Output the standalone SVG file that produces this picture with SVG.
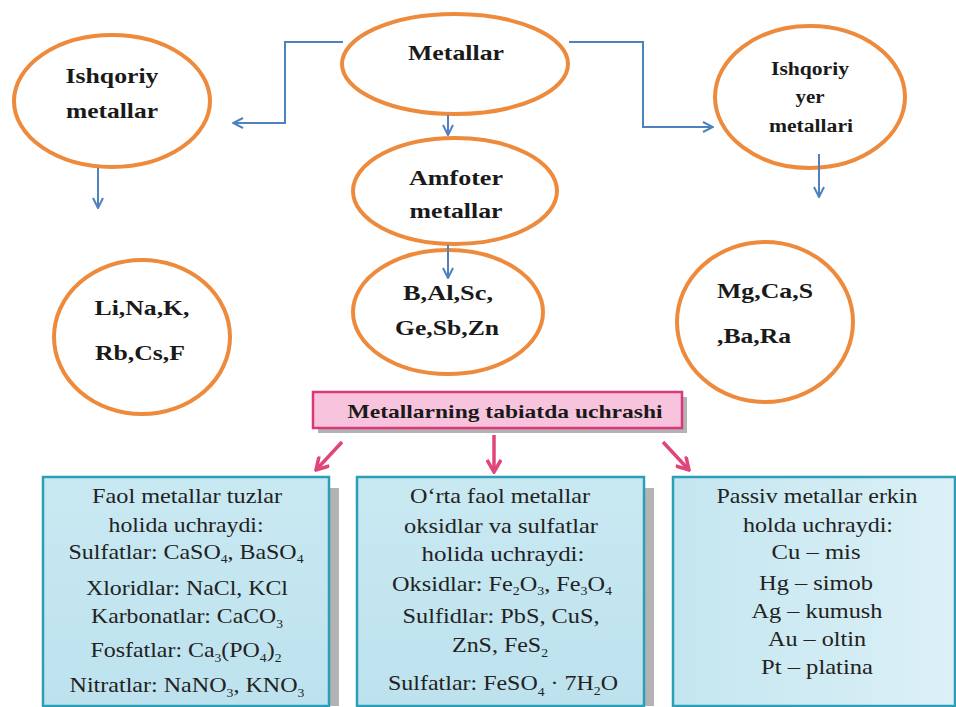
<svg xmlns="http://www.w3.org/2000/svg" width="956" height="707" viewBox="0 0 956 707" font-family="Liberation Serif">
<defs>
<style>
.ell{fill:#fff;stroke:#ee8a3c;stroke-width:4}
.bt{font-family:'Liberation Serif','DejaVu Serif',serif;font-weight:bold;fill:#1a1a1a;text-anchor:middle}
.con{fill:none;stroke:#4f81bd;stroke-width:2}
.pk{fill:none;stroke:#e0457b;stroke-width:3.5}
.box{stroke:#2c9fb6;stroke-width:2.5}
.sh{fill:#b3b3b3}
.tx{font-family:'Liberation Serif','DejaVu Serif',serif;font-size:21px;fill:#222;text-anchor:middle}
</style>
<marker id="ab" viewBox="0 0 12 12" refX="11" refY="6" markerWidth="12" markerHeight="12" markerUnits="userSpaceOnUse" orient="auto">
<path d="M1,1 L11,6 L1,11" fill="none" stroke="#4f81bd" stroke-width="2"/>
</marker>
<marker id="ap" viewBox="0 0 16 16" refX="14" refY="8" markerWidth="16" markerHeight="16" markerUnits="userSpaceOnUse" orient="auto">
<path d="M2,1 L14,8 L2,15" fill="none" stroke="#e0457b" stroke-width="3.5"/>
</marker>
<linearGradient id="gb" x1="0" y1="0" x2="0" y2="1">
<stop offset="0" stop-color="#c9e9f2"/>
<stop offset="1" stop-color="#bde2ee"/>
</linearGradient>
<linearGradient id="gr" x1="0" y1="0" x2="1" y2="0">
<stop offset="0" stop-color="#c4e6f0"/>
<stop offset="1" stop-color="#dcf0f6"/>
</linearGradient>
</defs>
<rect width="956" height="707" fill="#fff"/>

<g id="metallar">
<ellipse class="ell" cx="455" cy="64" rx="113" ry="50"/>
<text class="bt" x="456" y="60" font-size="22" textLength="96" lengthAdjust="spacingAndGlyphs">Metallar</text>
</g>

<g id="ishqoriy">
<ellipse class="ell" cx="112" cy="101" rx="98" ry="66"/>
<text class="bt" x="112" y="83" font-size="22" textLength="93" lengthAdjust="spacingAndGlyphs">Ishqoriy</text>
<text class="bt" x="112" y="118" font-size="22" textLength="92" lengthAdjust="spacingAndGlyphs">metallar</text>
</g>

<g id="amfoter">
<ellipse class="ell" cx="455" cy="191" rx="102" ry="53"/>
<text class="bt" x="456" y="185" font-size="22" textLength="94" lengthAdjust="spacingAndGlyphs">Amfoter</text>
<text class="bt" x="456" y="218" font-size="22" textLength="93" lengthAdjust="spacingAndGlyphs">metallar</text>
</g>

<g id="ishqoriy-yer">
<ellipse class="ell" cx="810" cy="97" rx="95" ry="71"/>
<text class="bt" x="810" y="75" font-size="18" textLength="78" lengthAdjust="spacingAndGlyphs">Ishqoriy</text>
<text class="bt" x="810" y="103" font-size="18" textLength="29" lengthAdjust="spacingAndGlyphs">yer</text>
<text class="bt" x="811" y="132" font-size="18" textLength="84" lengthAdjust="spacingAndGlyphs">metallari</text>
</g>

<g id="li-na">
<ellipse class="ell" cx="142" cy="337" rx="88" ry="77"/>
<text class="bt" x="142" y="315" font-size="22" textLength="95" lengthAdjust="spacingAndGlyphs">Li,Na,K,</text>
<text class="bt" x="140" y="360" font-size="22" textLength="90" lengthAdjust="spacingAndGlyphs">Rb,Cs,F</text>
</g>

<g id="b-al">
<ellipse class="ell" cx="448" cy="312" rx="95" ry="62"/>
<text class="bt" x="448" y="300" font-size="22" textLength="90" lengthAdjust="spacingAndGlyphs">B,Al,Sc,</text>
<text class="bt" x="447" y="335" font-size="22" textLength="104" lengthAdjust="spacingAndGlyphs">Ge,Sb,Zn</text>
</g>

<g id="mg-ca">
<ellipse class="ell" cx="765" cy="322" rx="88" ry="80"/>
<text class="bt" x="717" y="298" font-size="22" style="text-anchor:start" textLength="96" lengthAdjust="spacingAndGlyphs">Mg,Ca,S</text>
<text class="bt" x="717" y="343" font-size="22" style="text-anchor:start" textLength="74" lengthAdjust="spacingAndGlyphs">,Ba,Ra</text>
</g>

<g id="tabiatda">
<rect x="318" y="397" width="369" height="36" class="sh"/>
<rect x="313" y="392" width="369" height="36" fill="#f8c4dd" stroke="#d9387a" stroke-width="2.5"/>
<text class="bt" x="505" y="418" font-size="19" textLength="315" lengthAdjust="spacingAndGlyphs">Metallarning tabiatda uchrashi</text>
</g>

<g id="faol">
<rect x="330" y="488" width="9" height="218" class="sh"/>
<rect x="43" y="477" width="286" height="229" fill="url(#gb)" class="box"/>
<text class="tx" x="187" y="503" textLength="190" lengthAdjust="spacingAndGlyphs">Faol metallar tuzlar</text>
<text class="tx" x="186" y="532" textLength="155" lengthAdjust="spacingAndGlyphs">holida uchraydi:</text>
<text class="tx" x="186" y="559" textLength="235" lengthAdjust="spacingAndGlyphs">Sulfatlar: CaSO<tspan font-size="12" dy="4">4</tspan><tspan dy="-4">, BaSO</tspan><tspan font-size="12" dy="4">4</tspan></text>
<text class="tx" x="187" y="595" textLength="202" lengthAdjust="spacingAndGlyphs">Xloridlar: NaCl, KCl</text>
<text class="tx" x="187" y="623" textLength="192" lengthAdjust="spacingAndGlyphs">Karbonatlar: CaCO<tspan font-size="12" dy="5">3</tspan></text>
<text class="tx" x="186" y="657" textLength="191" lengthAdjust="spacingAndGlyphs">Fosfatlar: Ca<tspan font-size="12" dy="5">3</tspan><tspan dy="-5">(PO</tspan><tspan font-size="12" dy="5">4</tspan><tspan dy="-5">)</tspan><tspan font-size="12" dy="5">2</tspan></text>
<text class="tx" x="187" y="692" textLength="235" lengthAdjust="spacingAndGlyphs">Nitratlar: NaNO<tspan font-size="12" dy="5">3</tspan><tspan dy="-5">, KNO</tspan><tspan font-size="12" dy="5">3</tspan></text>
</g>

<g id="orta">
<rect x="645" y="488" width="9" height="218" class="sh"/>
<rect x="357" y="477" width="287" height="229" fill="url(#gb)" class="box"/>
<text class="tx" x="500" y="503" textLength="180" lengthAdjust="spacingAndGlyphs">O‘rta faol metallar</text>
<text class="tx" x="501" y="533" textLength="194" lengthAdjust="spacingAndGlyphs">oksidlar va sulfatlar</text>
<text class="tx" x="503" y="561" textLength="163" lengthAdjust="spacingAndGlyphs">holida uchraydi:</text>
<text class="tx" x="502" y="591" textLength="220" lengthAdjust="spacingAndGlyphs">Oksidlar: Fe<tspan font-size="12" dy="4">2</tspan><tspan dy="-4">O</tspan><tspan font-size="12" dy="4">3</tspan><tspan dy="-4">, Fe</tspan><tspan font-size="12" dy="4">3</tspan><tspan dy="-4">O</tspan><tspan font-size="12" dy="4">4</tspan></text>
<text class="tx" x="501" y="623" textLength="197" lengthAdjust="spacingAndGlyphs">Sulfidlar: PbS, CuS,</text>
<text class="tx" x="500" y="652" textLength="96" lengthAdjust="spacingAndGlyphs">ZnS, FeS<tspan font-size="12" dy="5">2</tspan></text>
<text class="tx" x="503" y="690" textLength="230" lengthAdjust="spacingAndGlyphs">Sulfatlar: FeSO<tspan font-size="12" dy="6">4</tspan><tspan dy="-6"> · 7H</tspan><tspan font-size="12" dy="5">2</tspan><tspan dy="-5">O</tspan></text>
</g>

<g id="passiv">
<rect x="673" y="477" width="282" height="229" fill="url(#gr)" class="box"/>
<text class="tx" x="817" y="503" textLength="201" lengthAdjust="spacingAndGlyphs">Passiv metallar erkin</text>
<text class="tx" x="818" y="532" textLength="150" lengthAdjust="spacingAndGlyphs">holda uchraydi:</text>
<text class="tx" x="816" y="559" textLength="89" lengthAdjust="spacingAndGlyphs">Cu – mis</text>
<text class="tx" x="816" y="590" textLength="114" lengthAdjust="spacingAndGlyphs">Hg – simob</text>
<text class="tx" x="817" y="618" textLength="131" lengthAdjust="spacingAndGlyphs">Ag – kumush</text>
<text class="tx" x="817" y="646" textLength="98" lengthAdjust="spacingAndGlyphs">Au – oltin</text>
<text class="tx" x="817" y="674" textLength="112" lengthAdjust="spacingAndGlyphs">Pt – platina</text>
</g>

<g id="connectors">
<polyline class="con" points="343,42 285,42 285,123 233,123" marker-end="url(#ab)"/>
<polyline class="con" points="569,42 643,42 643,127 713,127" marker-end="url(#ab)"/>
<line class="con" x1="448" y1="115" x2="448" y2="135" marker-end="url(#ab)"/>
<line class="con" x1="98" y1="168" x2="98" y2="208" marker-end="url(#ab)"/>
<line class="con" x1="448" y1="245" x2="448" y2="278" marker-end="url(#ab)"/>
<line class="con" x1="819" y1="154" x2="819" y2="197" marker-end="url(#ab)"/>
<line class="pk" x1="342" y1="442" x2="316" y2="470" marker-end="url(#ap)"/>
<line class="pk" x1="494" y1="435" x2="494" y2="472" marker-end="url(#ap)"/>
<line class="pk" x1="663" y1="442" x2="689" y2="470" marker-end="url(#ap)"/>
</g>
</svg>
